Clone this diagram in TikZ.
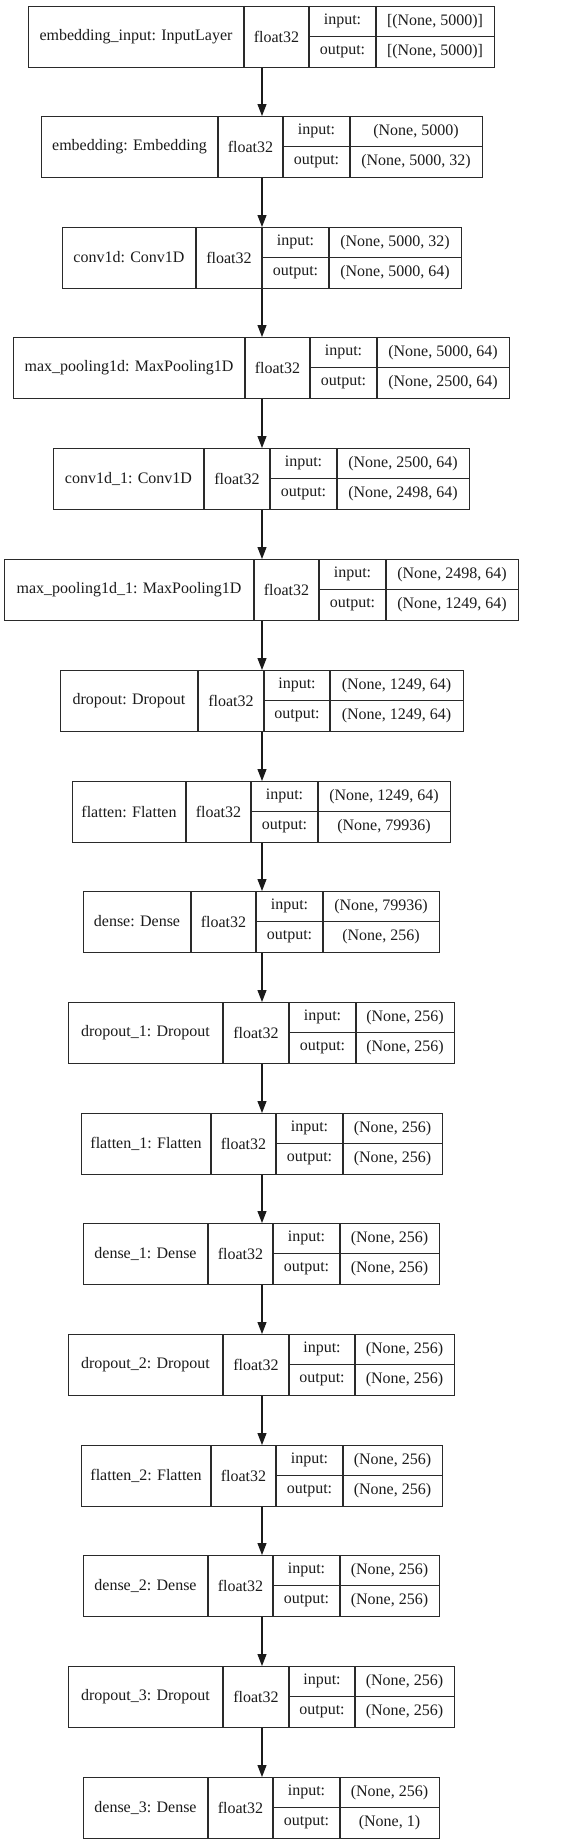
\documentclass[tikz,border=0pt]{standalone}
\usepackage{fontspec}
\setmainfont{Liberation Serif}
\usetikzlibrary{arrows.meta}
\definecolor{cInk}{HTML}{1B1B1B}
\definecolor{cLine}{HTML}{2A2A2A}
\tikzset{
  lyr/.style={draw=cLine, line width=1.2pt, inner sep=0pt},
  cell/.style={inner sep=0pt, font=\fontsize{16}{19}\selectfont, text=cInk},
  ar/.style={-{Triangle[length=12pt,width=9pt]}, cInk, line width=1.1pt}
}
\begin{document}
\begin{tikzpicture}[x=1pt,y=1pt]
\fill[white] (0,0) rectangle (585,-1844);
\useasboundingbox (0,0) rectangle (585,-1844);
\coordinate (axis) at (262,0);
% one record per layer: top / cell borders / name / shapes
\foreach \ty/\xa/\xb/\xc/\xd/\xe/\lbl/\inp/\outp [count=\i] in {
  6/28/244/309/376/494/{embedding\_input: InputLayer}/{[(None, 5000)]}/{[(None, 5000)]},
  116/41/218/283/350/482/{embedding: Embedding}/{(None, 5000)}/{(None, 5000, 32)},
  227/62/196/262/329/461/{conv1d: Conv1D}/{(None, 5000, 32)}/{(None, 5000, 64)},
  337/13/245/310/377/509/{max\_pooling1d: MaxPooling1D}/{(None, 5000, 64)}/{(None, 2500, 64)},
  448/53/204/270/337/469/{conv1d\_1: Conv1D}/{(None, 2500, 64)}/{(None, 2498, 64)},
  559/4/254/319/386/518/{max\_pooling1d\_1: MaxPooling1D}/{(None, 2498, 64)}/{(None, 1249, 64)},
  670/60/198/264/330/463/{dropout: Dropout}/{(None, 1249, 64)}/{(None, 1249, 64)},
  781/72/186/251/318/450/{flatten: Flatten}/{(None, 1249, 64)}/{(None, 79936)},
  891/83/191/256/323/439/{dense: Dense}/{(None, 79936)}/{(None, 256)},
  1002/68/223/289/356/454/{dropout\_1: Dropout}/{(None, 256)}/{(None, 256)},
  1113/81/211/276/343/442/{flatten\_1: Flatten}/{(None, 256)}/{(None, 256)},
  1223/83/208/273/340/439/{dense\_1: Dense}/{(None, 256)}/{(None, 256)},
  1334/68/223/289/355/454/{dropout\_2: Dropout}/{(None, 256)}/{(None, 256)},
  1445/81/211/276/343/442/{flatten\_2: Flatten}/{(None, 256)}/{(None, 256)},
  1555/83/208/273/340/439/{dense\_2: Dense}/{(None, 256)}/{(None, 256)},
  1666/68/223/289/355/454/{dropout\_3: Dropout}/{(None, 256)}/{(None, 256)},
  1777/83/208/273/340/439/{dense\_3: Dense}/{(None, 256)}/{(None, 1)}}
{
  \pgfmathsetmacro\w{\xe-\xa}
  \node[lyr, minimum width=\w pt, minimum height=61pt, anchor=north west] (L\i) at (\xa,-\ty) {};
  \draw[lyr] (\xb,-\ty) -- ++(0,-61) (\xc,-\ty) -- ++(0,-61) (\xd,-\ty) -- ++(0,-61)
    (\xc,-\ty-30.5) -- (\xe,-\ty-30.5);
  \node[cell] (N\i) at ({(\xa+\xb)/2},-\ty-30.5) {\lbl};
  \node[cell] (T\i) at ({(\xb+\xc)/2},-\ty-30.5) {float32};
  \node[cell] (I\i) at ({(\xc+\xd)/2},-\ty-15.25) {input:};
  \node[cell] (O\i) at ({(\xc+\xd)/2},-\ty-45.75) {output:};
  \node[cell] (P\i) at ({(\xd+\xe)/2},-\ty-15.25) {\inp};
  \node[cell] (Q\i) at ({(\xd+\xe)/2},-\ty-45.75) {\outp};
}
\foreach \i [evaluate=\i as \j using int(\i-1)] in {2,...,17}
  \draw[ar] (L\j.south -| axis) -- (L\i.north -| axis);
\end{tikzpicture}
\end{document}
